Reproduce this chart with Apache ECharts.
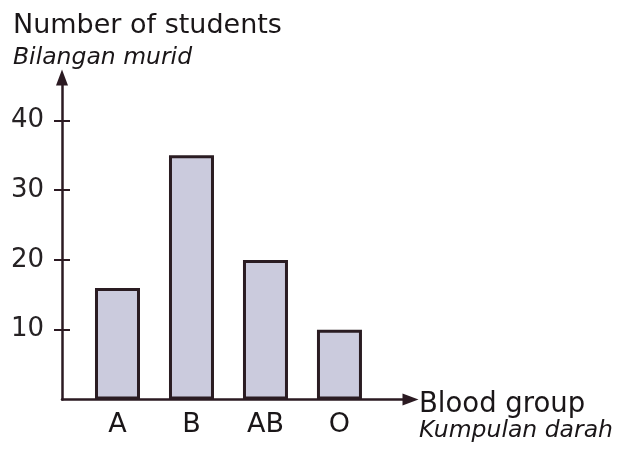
<!DOCTYPE html>
<html>
<head>
<meta charset="utf-8">
<script src="https://cdn.jsdelivr.net/npm/echarts@6/dist/echarts.min.js"></script>
<style>
  html, body { margin: 0; padding: 0; background: #ffffff; }
  #chart { width: 627px; height: 456px; }
</style>
</head>
<body>
<div id="chart"></div>
<script>
// Blood groups of the students and how many students have each
const categories = ['A', 'B', 'AB', 'O'];
const students = [16, 35, 20, 10];
const yTicks = [10, 20, 30, 40];

const FONT = 'DejaVu Sans';
const INK = '#1a1618';
const AXIS = '#2b1a22';

// bars sit at positions 1..n on a value axis so the first bar can be offset from the origin
const barData = categories.map((c, i) => [i + 1, students[i]]);
const xPositions = categories.map((c, i) => i + 1);

const chart = echarts.init(document.getElementById('chart'), null, { renderer: 'canvas' });

const gridLeft = 62, gridTop = 77.5, gridWidth = 348.5, gridHeight = 322;

chart.setOption({
  backgroundColor: '#ffffff',
  animation: false,
  title: [
    {
      text: 'Number of students',
      subtext: 'Bilangan murid',
      left: 13,
      top: 12,
      padding: 0,
      itemGap: 7,
      textStyle: { fontFamily: FONT, fontSize: 27, fontWeight: 'normal', color: INK },
      subtextStyle: { fontFamily: FONT, fontSize: 23.5, fontStyle: 'italic', color: INK }
    },
    {
      text: 'Blood group',
      subtext: 'Kumpulan darah',
      left: 419,
      top: 391,
      padding: 0,
      itemGap: 0,
      textStyle: { fontFamily: FONT, fontSize: 27.5, fontWeight: 'normal', color: INK },
      subtextStyle: { fontFamily: FONT, fontSize: 23.5, fontStyle: 'italic', color: INK }
    }
  ],
  grid: { left: gridLeft, top: gridTop, width: gridWidth, height: gridHeight },
  xAxis: {
    type: 'value',
    min: 0.25,
    max: 4.96,
    axisLine: {
      show: true,
      onZero: false,
      symbol: ['none', 'triangle'],
      symbolSize: [12, 16],
      lineStyle: { color: AXIS, width: 2.5 }
    },
    axisTick: { show: false },
    splitLine: { show: false },
    axisLabel: {
      customValues: xPositions,
      formatter: v => categories[Math.round(v) - 1] || '',
      margin: 12,
      fontFamily: FONT,
      fontSize: 27,
      color: INK
    }
  },
  yAxis: [
    {
      type: 'value',
      position: 'left',
      min: 0,
      max: 46.16,
      axisLine: {
        show: true,
        onZero: false,
        symbol: ['none', 'triangle'],
        symbolSize: [12, 16],
        lineStyle: { color: AXIS, width: 2.5 }
      },
      axisTick: {
        show: true,
        inside: false,
        length: 8,
        customValues: yTicks,
        lineStyle: { color: AXIS, width: 2 }
      },
      splitLine: { show: false },
      axisLabel: {
        customValues: yTicks,
        margin: 18,
        fontFamily: FONT,
        fontSize: 26,
        color: '#262224'
      }
    },
    {
      // mirrored copy of the vertical axis, shifted onto it, draws the right half of each tick
      type: 'value',
      position: 'right',
      offset: -gridWidth,
      min: 0,
      max: 46.16,
      axisLine: { show: false },
      axisTick: {
        show: true,
        inside: false,
        length: 8,
        customValues: yTicks,
        lineStyle: { color: AXIS, width: 2 }
      },
      splitLine: { show: false },
      axisLabel: { show: false }
    }
  ],
  series: [
    {
      type: 'bar',
      yAxisIndex: 0,
      data: barData,
      barWidth: 45,
      itemStyle: {
        color: '#cbcbdd',
        borderColor: '#2a1c22',
        borderWidth: 3
      }
    }
  ]
});
</script>
</body>
</html>
